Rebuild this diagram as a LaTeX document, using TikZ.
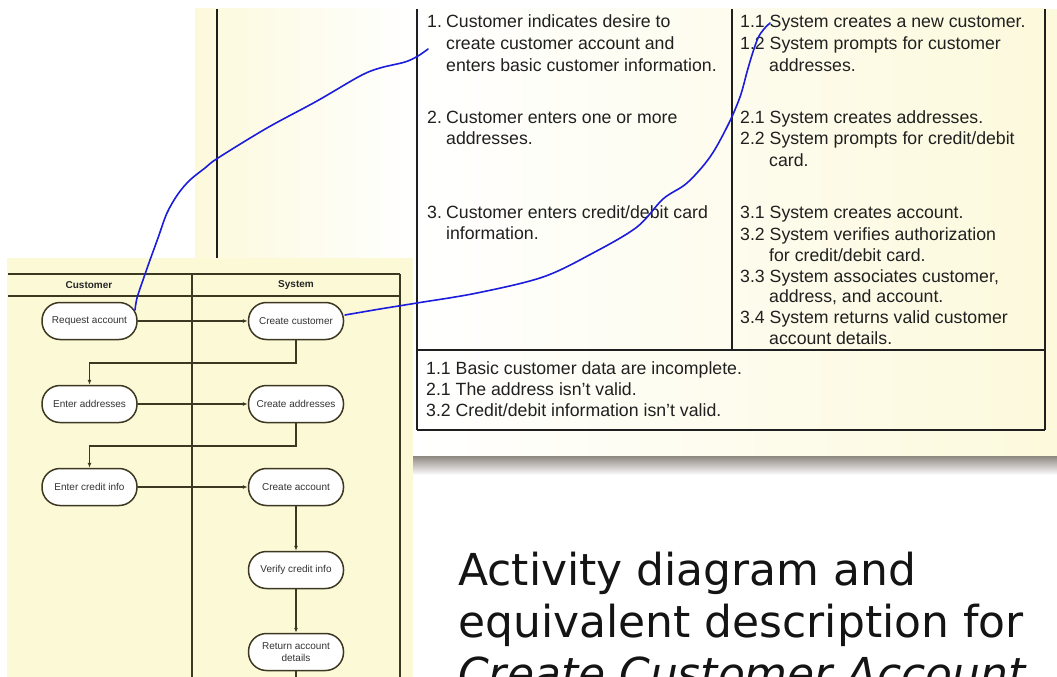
\documentclass[tikz,border=0pt]{standalone}
\usepackage{fontspec}
\setmainfont{Liberation Sans}
\newfontfamily\titlefont{DejaVu Sans}
\usetikzlibrary{arrows.meta}

\definecolor{slideyellow}{HTML}{FCF9DC}
\definecolor{laneyellow}{HTML}{FCF9D7}
\definecolor{laneline}{HTML}{3C3822}
\definecolor{inkblue}{HTML}{1C1CDC}
\definecolor{bodytext}{HTML}{202020}
\definecolor{shadowgray}{HTML}{8E8882}

\tikzset{
  activity/.style={draw=laneline, line width=1.5pt, fill=white, rounded corners=18pt,
    minimum width=95pt, minimum height=37pt, inner sep=1pt, align=center,
    font=\fontsize{10}{11.5}\selectfont, text=black!80},
  lanehead/.style={font=\bfseries\fontsize{10}{12}\selectfont, text=black!85, inner sep=0},
  laneedge/.style={draw=laneline, line width=1.6pt},
  flow/.style={draw=laneline, line width=1.3pt, -{Latex[length=5pt,width=4pt]}},
  cell/.style={anchor=base west, inner sep=0, font=\fontsize{17.7}{20}\selectfont, text=bodytext},
  rule/.style={draw=black!88, line width=2pt},
  scribble/.style={draw=inkblue, line width=1.6pt, line cap=round, line join=round},
  heading/.style={anchor=base west, inner sep=0, font=\titlefont\fontsize{44}{52}\selectfont, text=black!92}
}

\begin{document}
\begin{tikzpicture}[x=1pt, y=-1pt]
\useasboundingbox (0,0) rectangle (1057,677);

% backdrop
\fill[white] (0,0) rectangle (1057,677);
\shade[left color=slideyellow, right color=white] (195,9) rectangle (417,258);
\shade[left color=white, middle color=white, right color=slideyellow] (417,9) rectangle (1045,430);
\fill[slideyellow] (1045,9) rectangle (1057,455);
\shade[left color=white, middle color=white, right color=slideyellow] (413,430) rectangle (1057,456);
\shade[top color=shadowgray, bottom color=white] (413,456) rectangle (1057,475);
\fill[laneyellow] (7,258) rectangle (413,677);

% upper divider line
\draw[rule] (217,9) -- (217,258);

% ---- swimlanes ----
\draw[laneedge] (8,274) -- (400,274);
\draw[laneedge] (8,296) -- (400,296);
\draw[laneedge] (192,274) -- (192,677);
\draw[laneedge] (400,274) -- (400,677);
\node[lanehead] (hcust) at (89,285) {Customer};
\node[lanehead] (hsys) at (296,285) {System};

\node[activity] (req) at (89.5,321) {Request account};
\node[activity] (cc)  at (296,321)  {Create customer};
\node[activity] (ea)  at (89.5,404) {Enter addresses};
\node[activity] (cad) at (296,404)  {Create addresses};
\node[activity] (ec)  at (89.5,487) {Enter credit info};
\node[activity] (cac) at (296,487)  {Create account};
\node[activity] (vc)  at (296,570)  {Verify credit info};
\node[activity] (rd)  at (296,652)  {Return account\\details};
\coordinate (bend1) at (0,363);
\coordinate (bend2) at (0,446);
\coordinate (down) at (296,680);

\draw[flow] (req) -- (cc);
\draw[flow] (cc.south) -- (cc.south |- bend1) -| (ea.north);
\draw[flow] (ea) -- (cad);
\draw[flow] (cad.south) -- (cad.south |- bend2) -| (ec.north);
\draw[flow] (ec) -- (cac);
\draw[flow] (cac) -- (vc);
\draw[flow] (vc) -- (rd);
\draw[draw=laneline, line width=1.3pt] (rd) -- (down);

% ---- use case table ----
\draw[rule] (417,9) -- (417,430);
\draw[rule] (732,9) -- (732,350);
\draw[rule] (1045,9) -- (1045,430);
\draw[rule] (417,350) -- (1045,350);
\draw[rule] (417,430) -- (1045,430);

% actor column
\node[cell] (a1n) at (427,28) {1.};
\node[cell] (a1a) at (446,28) {Customer indicates desire to};
\node[cell] (a1b) at (446,49) {create customer account and};
\node[cell] (a1c) at (446,71) {enters basic customer information.};
\node[cell] (a2n) at (427,123) {2.};
\node[cell] (a2a) at (446,123) {Customer enters one or more};
\node[cell] (a2b) at (446,144) {addresses.};
\node[cell] (a3n) at (427,218) {3.};
\node[cell] (a3a) at (446,218) {Customer enters credit/debit card};
\node[cell] (a3b) at (446,239) {information.};

% system column
\node[cell] (s11) at (740,28)  {1.1 System creates a new customer.};
\node[cell] (s12) at (740,50)  {1.2 System prompts for customer};
\node[cell] (s12b) at (769,71) {addresses.};
\node[cell] (s21) at (740,123) {2.1 System creates addresses.};
\node[cell] (s22) at (740,144) {2.2 System prompts for credit/debit};
\node[cell] (s22b) at (769,166) {card.};
\node[cell] (s31) at (740,218) {3.1 System creates account.};
\node[cell] (s32) at (740,240) {3.2 System verifies authorization};
\node[cell] (s32b) at (769,261) {for credit/debit card.};
\node[cell] (s33) at (740,282) {3.3 System associates customer,};
\node[cell] (s33b) at (769,302) {address, and account.};
\node[cell] (s34) at (740,323) {3.4 System returns valid customer};
\node[cell] (s34b) at (769,344) {account details.};

% exceptions
\node[cell] (x1) at (426,374) {1.1 Basic customer data are incomplete.};
\node[cell] (x2) at (426,395) {2.1 The address isn't valid.};
\node[cell] (x3) at (426,416) {3.2 Credit/debit information isn't valid.};

% ---- caption ----
\node[heading] (cap1) at (458,585) {Activity diagram and};
\node[heading] (cap2) at (458,637) {equivalent description for};
\node[heading] (cap3) at (458,689) {\itshape Create Customer Account};

% ---- freehand links ----
\coordinate (ink1) at (428,49);
\coordinate (ink2) at (770,23);
\draw[scribble] plot[smooth, tension=0.55] coordinates {
  (135,310) (137,298) (143,280) (150,260) (158,238) (167,213) (178,194) (190,180)
  (205,168) (218,158) (267,128) (317,101) (360,76) (380,68) (405,62) (418,56) (ink1)};
\draw[scribble] plot[smooth, tension=0.55] coordinates {
  (345,315) (380,309) (417,303) (477,293) (543,277) (593,253) (637,227) (663,199)
  (687,183) (710,157) (728,125) (740,97) (747,72) (752,55) (758,38) (764,29) (ink2)};
\end{tikzpicture}
\end{document}
